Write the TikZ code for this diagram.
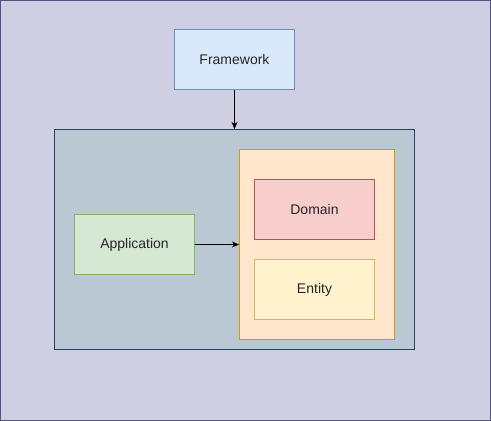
\documentclass[tikz,border=0pt]{standalone}
\usepackage{fontspec}
\setmainfont{Liberation Sans}
\usetikzlibrary{arrows.meta}
\definecolor{outF}{HTML}{D0CEE2}\definecolor{outD}{HTML}{56517E}
\definecolor{fwF}{HTML}{DAE8FC}\definecolor{fwD}{HTML}{6C8EBF}
\definecolor{ctF}{HTML}{BAC8D3}\definecolor{ctD}{HTML}{23445D}
\definecolor{apF}{HTML}{D5E8D4}\definecolor{apD}{HTML}{82B366}
\definecolor{orF}{HTML}{FFE6CC}\definecolor{orD}{HTML}{D79B00}
\definecolor{doF}{HTML}{F8CECC}\definecolor{doD}{HTML}{B85450}
\definecolor{enF}{HTML}{FFF2CC}\definecolor{enD}{HTML}{D6B656}
\begin{document}
\begin{tikzpicture}[x=1pt,y=-1pt,
  box/.style={draw=#1D,fill=#1F,line width=1pt,inner sep=0pt,font=\fontsize{14}{16}\selectfont,text=black!85},
  conn/.style={-{Stealth[length=7pt,width=6pt,inset=2pt]},line width=1pt,black}]
\useasboundingbox (0,0) rectangle (491,421);
\draw[outD,fill=outF,line width=1pt] (0.5,0.5) rectangle (490.5,420.5);
\node[box=fw,minimum width=120pt,minimum height=60pt] (fw) at (234.5,59.5) {Framework};
\node[box=ct,minimum width=360pt,minimum height=220pt] (ct) at (234.5,239.5) {};
\node[box=ap,minimum width=120pt,minimum height=60pt] (ap) at (134.5,244.5) {Application};
\node[box=or,minimum width=155pt,minimum height=190pt] (or) at (317,244.5) {};
\node[box=do,minimum width=120pt,minimum height=60pt] (do) at (314.5,209.5) {Domain};
\node[box=en,minimum width=120pt,minimum height=60pt] (en) at (314.5,289.5) {Entity};
\draw[conn] (fw.south) -- (ct.north);
\draw[conn] (ap.east) -- (or.west);
\end{tikzpicture}
\end{document}
